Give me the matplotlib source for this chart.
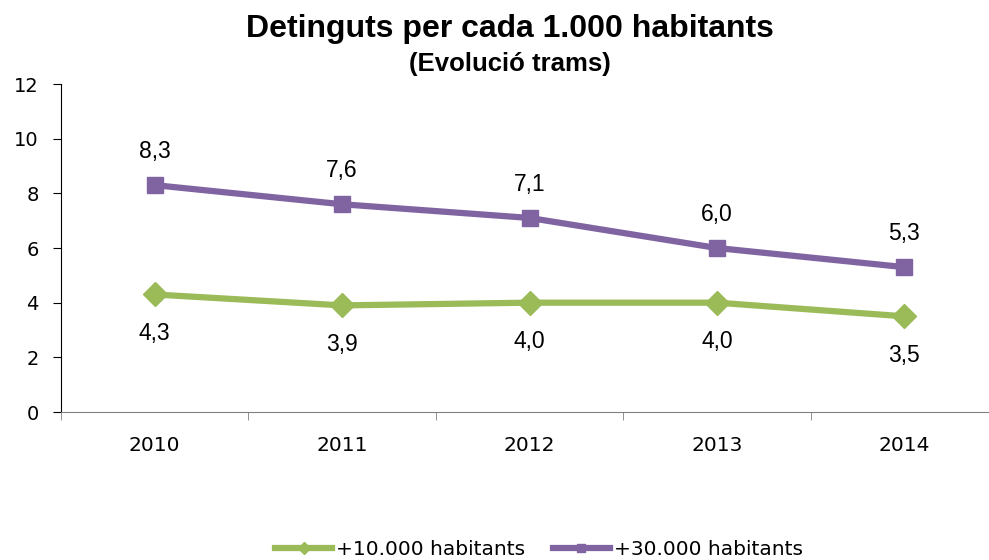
import matplotlib.pyplot as plt

plt.rcParams['font.family'] = ['Liberation Sans', 'DejaVu Sans']

years = ['2010', '2011', '2012', '2013', '2014']
hab_10k = [4.3, 3.9, 4.0, 4.0, 3.5]
hab_30k = [8.3, 7.6, 7.1, 6.0, 5.3]
yticks = [0, 2, 4, 6, 8, 10, 12]

green = '#9BBB59'
purple = '#8064A2'

fig = plt.figure(figsize=(9.89, 5.6), dpi=100)
ax = fig.add_axes([61/989, 148/560, 937/989, 328/560])

x = list(range(len(years)))
ax.plot(x, hab_10k, color=green, lw=4.5, marker='D', ms=12, label='+10.000 habitants')
ax.plot(x, hab_30k, color=purple, lw=4.5, marker='s', ms=11, label='+30.000 habitants')

def fmt(v):
    return ('%.1f' % v).replace('.', ',')

for i in x:
    ax.annotate(fmt(hab_30k[i]), (i, hab_30k[i]), xytext=(0, 24), textcoords='offset points',
                ha='center', va='center', fontsize=16.5)
    ax.annotate(fmt(hab_10k[i]), (i, hab_10k[i]), xytext=(0, -28),
                textcoords='offset points', ha='center', va='center', fontsize=16.5)

ax.set_xlim(-0.5, len(years) - 0.5)
ax.set_ylim(0, 12)
ax.set_yticks(yticks)
ax.set_yticklabels([str(v) for v in yticks], family='DejaVu Sans', fontsize=14)
ax.set_xticks(x)
ax.set_xticklabels(years, family='DejaVu Sans', fontsize=14.5)
ax.set_xticks([i + 0.5 for i in range(-1, len(years))], minor=True)
ax.tick_params(axis='x', which='major', length=0, pad=17)
ax.tick_params(axis='x', which='minor', length=6, direction='out', color='#808080')
ax.tick_params(axis='y', length=6, direction='out', pad=10)

for s in ['top', 'right']:
    ax.spines[s].set_visible(False)
ax.spines['bottom'].set_color('#808080')
ax.spines['left'].set_color('black')

fig.text(0.516, 0.948, 'Detinguts per cada 1.000 habitants', ha='center', va='center',
         fontsize=23, fontweight='bold')
fig.text(0.516, 0.886, '(Evolució trams)', ha='center', va='center', fontsize=18.5, fontweight='bold')

fig.legend(loc='center', bbox_to_anchor=(0.545, 0.018), ncol=2, frameon=False,
           prop={'family': 'DejaVu Sans', 'size': 14.5}, handlelength=2.8, handletextpad=0.2,
           columnspacing=1.4, markerscale=0.5)

fig.savefig('out.png', dpi=100)
